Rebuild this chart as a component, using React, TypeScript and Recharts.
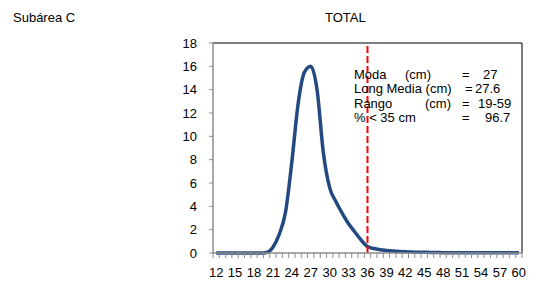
import { LineChart, Line, XAxis, YAxis, ReferenceLine } from 'recharts';

const lengths = [
  12, 13, 14, 15, 16, 17, 18, 19, 20, 21, 22, 23, 24, 25, 26, 27, 28, 29, 30, 31, 32, 33, 34, 35, 36,
  37, 38, 39, 40, 41, 42, 43, 44, 45, 46, 47, 48, 49, 50, 51, 52, 53, 54, 55, 56, 57, 58, 59, 60,
];
const freq = [
  0, 0, 0, 0, 0, 0, 0, 0, 0.05, 0.5, 1.6, 3.5, 7.8, 12.8, 15.5, 16, 14, 8.6, 5.6, 4.4, 3.4, 2.5, 1.8, 1.1, 0.55,
  0.38, 0.28, 0.22, 0.17, 0.13, 0.1, 0.08, 0.07, 0.06, 0.05, 0.04, 0.03, 0.03, 0.03, 0.03, 0.03, 0.03, 0.03, 0.03, 0.03, 0.03, 0.03, 0.03, 0.02,
];
const xLabels = [12, 15, 18, 21, 24, 27, 30, 33, 36, 39, 42, 45, 48, 51, 54, 57, 60];
const yTicks = [0, 2, 4, 6, 8, 10, 12, 14, 16, 18];
const cutoff = 36;

const stats = [
  ['Moda', '(cm)', '=', '27'],
  ['Long Media (cm)', '', '=', '27.6'],
  ['Rango', '(cm)', '=', '19-59'],
  ['% < 35 cm', '', '=', '96.7'],
];

const data = lengths.map((l, i) => ({ len: l, pct: freq[i] }));
// boundaries between categories carry the small tick marks, like the original
const minorTicks = Array.from({ length: lengths.length + 1 }, (_, i) => lengths[0] - 0.5 + i);
const allTicks = [...minorTicks, ...xLabels].sort((a, b) => a - b);

const FONT = '"Liberation Sans", Arial, sans-serif';

function XTick(props: any) {
  const { x, y, payload } = props;
  const v = payload.value;
  if (!Number.isInteger(v)) {
    return <line x1={x} x2={x} y1={y} y2={y + 5} stroke="#8c8c8c" strokeWidth={1} />;
  }
  return (
    <text x={x} y={y + 24} textAnchor="middle" fontSize={13} fill="#000" fontFamily={FONT}>
      {v}
    </text>
  );
}

const colX = [354, 405, 462, 483];
const colX2 = [354, 425, 462, 478];

export default function App() {
  return (
    <div style={{ position: 'absolute', left: 0, top: 0, width: 542, height: 284, background: '#fff', fontFamily: FONT }}>
      <div style={{ position: 'absolute', left: 13, top: 10, fontSize: 13 }}>Subárea C</div>
      <div style={{ position: 'absolute', left: 325, top: 10, fontSize: 13 }}>TOTAL</div>
      <LineChart width={542} height={284} data={data} margin={{ top: 43, right: 20, bottom: 0, left: 0 }}>
        <XAxis
          dataKey="len"
          type="number"
          domain={[11.5, 60.5]}
          ticks={allTicks}
          interval={0}
          tick={<XTick />}
          tickLine={false}
          tickSize={0}
          tickMargin={0}
          axisLine={{ stroke: '#8c8c8c', strokeWidth: 1.5 }}
          height={31}
        />
        <YAxis
          domain={[0, 18]}
          ticks={yTicks}
          interval={0}
          width={213}
          tickSize={4}
          tickMargin={12}
          tickLine={{ stroke: '#8c8c8c' }}
          axisLine={{ stroke: '#8c8c8c', strokeWidth: 1.5 }}
          tick={{ fill: '#000', fontSize: 13, fontFamily: FONT }}
        />
        <ReferenceLine y={18} stroke="#000" strokeWidth={1} />
        <ReferenceLine x={60.5} stroke="#000" strokeWidth={1} />
        <Line
          type="monotone"
          dataKey="pct"
          stroke="#234a80"
          strokeWidth={3.5}
          dot={false}
          activeDot={false}
          isAnimationActive={false}
        />
        <ReferenceLine x={cutoff} stroke="#ff0000" strokeWidth={2} strokeDasharray="7 3" />
      </LineChart>
      <svg style={{ position: 'absolute', left: 0, top: 0 }} width={542} height={284}>
        {stats.map((row, i) => {
          const cols = i === 2 ? colX2 : colX;
          const y = 79 + i * 14.3;
          return (
            <g key={i} fontSize={13} fontFamily={FONT} fill="#000">
              <text x={cols[0]} y={y}>{row[0]}</text>
              {row[1] && <text x={cols[1]} y={y}>{row[1]}</text>}
              <text x={i === 1 ? 465 : cols[2]} y={y}>{row[2]}</text>
              <text x={i === 1 ? 475 : i === 3 ? 485 : cols[3]} y={y}>{row[3]}</text>
            </g>
          );
        })}
      </svg>
    </div>
  );
}
